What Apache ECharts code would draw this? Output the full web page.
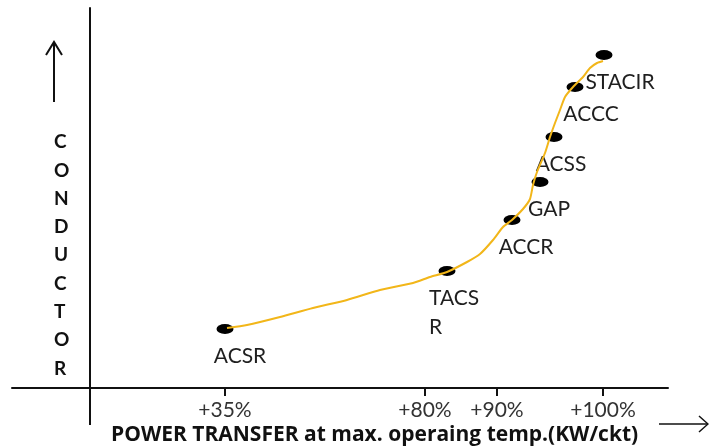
<!DOCTYPE html>
<html>
<head>
<meta charset="utf-8">
<script src="https://cdn.jsdelivr.net/npm/echarts@6/dist/echarts.min.js"></script>
<style>
html, body { margin: 0; padding: 0; background: #fff; }
#chart { width: 709px; height: 448px; }
</style>
</head>
<body>
<div id="chart"></div>
<script>
// conductor types, placed on power transfer (x) vs conductor (y)
var conductorNames = ['ACSR', 'TACS\nR', 'ACCR', 'GAP', 'ACSS', 'ACCC', 'STACIR'];
var conductorX = [135, 357, 422, 450, 464, 485, 514];
var conductorY = [59, 117, 168, 206, 251, 301, 333];

// the hand drawn yellow curve
var curveX = [137, 157, 190, 223, 257, 290, 323, 340, 357, 377, 390, 403, 413, 422, 433, 440, 443, 447, 455, 460, 465, 470, 475, 483, 493, 500, 507, 513];
var curveY = [60, 63, 71, 80, 88, 98, 105, 111, 116, 126, 134, 148, 161, 168, 179, 189, 203, 216, 235, 251, 265, 278, 291, 301, 311, 320, 325, 327];

// x axis ticks
var tickValues = [135, 335, 407, 513];
var tickLabels = ['+35%', '+80%', '+90%', '+100%'];

// horizontal nudge of each conductor label (px)
var labelShift = [15, -18, 14, 9, 7, 16, 16];

var chart = echarts.init(document.getElementById('chart'));

var pointData = [];
for (var i = 0; i < conductorNames.length; i++) {
    pointData.push({ name: conductorNames[i], value: [conductorX[i], conductorY[i]] });
}
var curveData = [];
for (var j = 0; j < curveX.length; j++) {
    curveData.push([curveX[j], curveY[j]]);
}

var option = {
    backgroundColor: '#fff',
    animation: false,
    title: {
        text: 'POWER TRANSFER at max. operaing temp.(KW/ckt)',
        left: 111,
        top: 425,
        padding: 0,
        textStyle: { fontFamily: 'Open Sans', fontWeight: 'bold', fontSize: 21, color: '#111' }
    },
    grid: { left: 12, right: 41, top: 8, bottom: 60, outerBoundsMode: 'none' },
    xAxis: {
        type: 'value',
        min: -78,
        max: 578,
        splitLine: { show: false },
        axisLine: { onZero: false, lineStyle: { color: '#111', width: 2 } },
        axisTick: { show: true, customValues: tickValues, length: 8, lineStyle: { color: '#111', width: 2 } },
        axisLabel: {
            customValues: tickValues,
            margin: 12,
            fontFamily: 'Lato',
            fontSize: 21,
            color: '#333',
            formatter: function (v) {
                var k = tickValues.indexOf(v);
                return k >= 0 ? tickLabels[k] : '';
            }
        }
    },
    yAxis: {
        type: 'value',
        min: 0,
        max: 380,
        splitLine: { show: false },
        axisLine: { show: true, onZero: true, lineStyle: { color: '#111', width: 2 } },
        axisTick: { show: false },
        axisLabel: { show: false }
    },
    graphic: [
        {
            // y axis runs on a little below the x axis
            type: 'line',
            shape: { x1: 90, y1: 388, x2: 90, y2: 425 },
            style: { stroke: '#111', lineWidth: 2 }
        },
        {
            type: 'text',
            left: 54,
            top: 128,
            style: {
                text: 'C\nO\nN\nD\nU\nC\nT\nO\nR',
                fontFamily: 'Lato',
                fontWeight: 'bold',
                fontSize: 19,
                lineHeight: 28.3,
                fill: '#111',
                align: 'center'
            }
        },
        {
            type: 'polyline',
            shape: { points: [[54, 102], [54, 42]] },
            style: { stroke: '#111', lineWidth: 2, fill: null }
        },
        {
            type: 'polyline',
            shape: { points: [[46, 55], [54, 42], [62, 55]] },
            style: { stroke: '#111', lineWidth: 2, fill: null }
        },
        {
            type: 'polyline',
            shape: { points: [[659, 424], [708, 424]] },
            style: { stroke: '#111', lineWidth: 1.5, fill: null }
        },
        {
            type: 'polyline',
            shape: { points: [[699, 416], [708, 424], [699, 432]] },
            style: { stroke: '#111', lineWidth: 1.5, fill: null }
        }
    ],
    series: [
        {
            type: 'scatter',
            data: pointData,
            symbol: 'circle',
            symbolSize: [17, 10],
            itemStyle: { color: '#000', opacity: 1 },
            z: 2,
            label: {
                show: true,
                position: 'inside',
                formatter: '{b}',
                fontFamily: 'Lato',
                fontSize: 21,
                lineHeight: 29,
                color: '#1f1f1f'
            },
            labelLayout: function (params) {
                var cx = params.rect.x + params.rect.width / 2;
                var cy = params.rect.y + params.rect.height / 2;
                var dx = labelShift[params.dataIndex];
                if (params.dataIndex === 1) {
                    return { x: cx + dx, y: cy + 13, align: 'left', verticalAlign: 'top' };
                }
                return { x: cx + dx, y: cy + 27, align: 'center', verticalAlign: 'middle' };
            }
        },
        {
            type: 'line',
            data: curveData,
            showSymbol: false,
            smooth: 0.2,
            z: 3,
            lineStyle: { color: '#f2b619', width: 2 }
        }
    ]
};

chart.setOption(option);
</script>
</body>
</html>
